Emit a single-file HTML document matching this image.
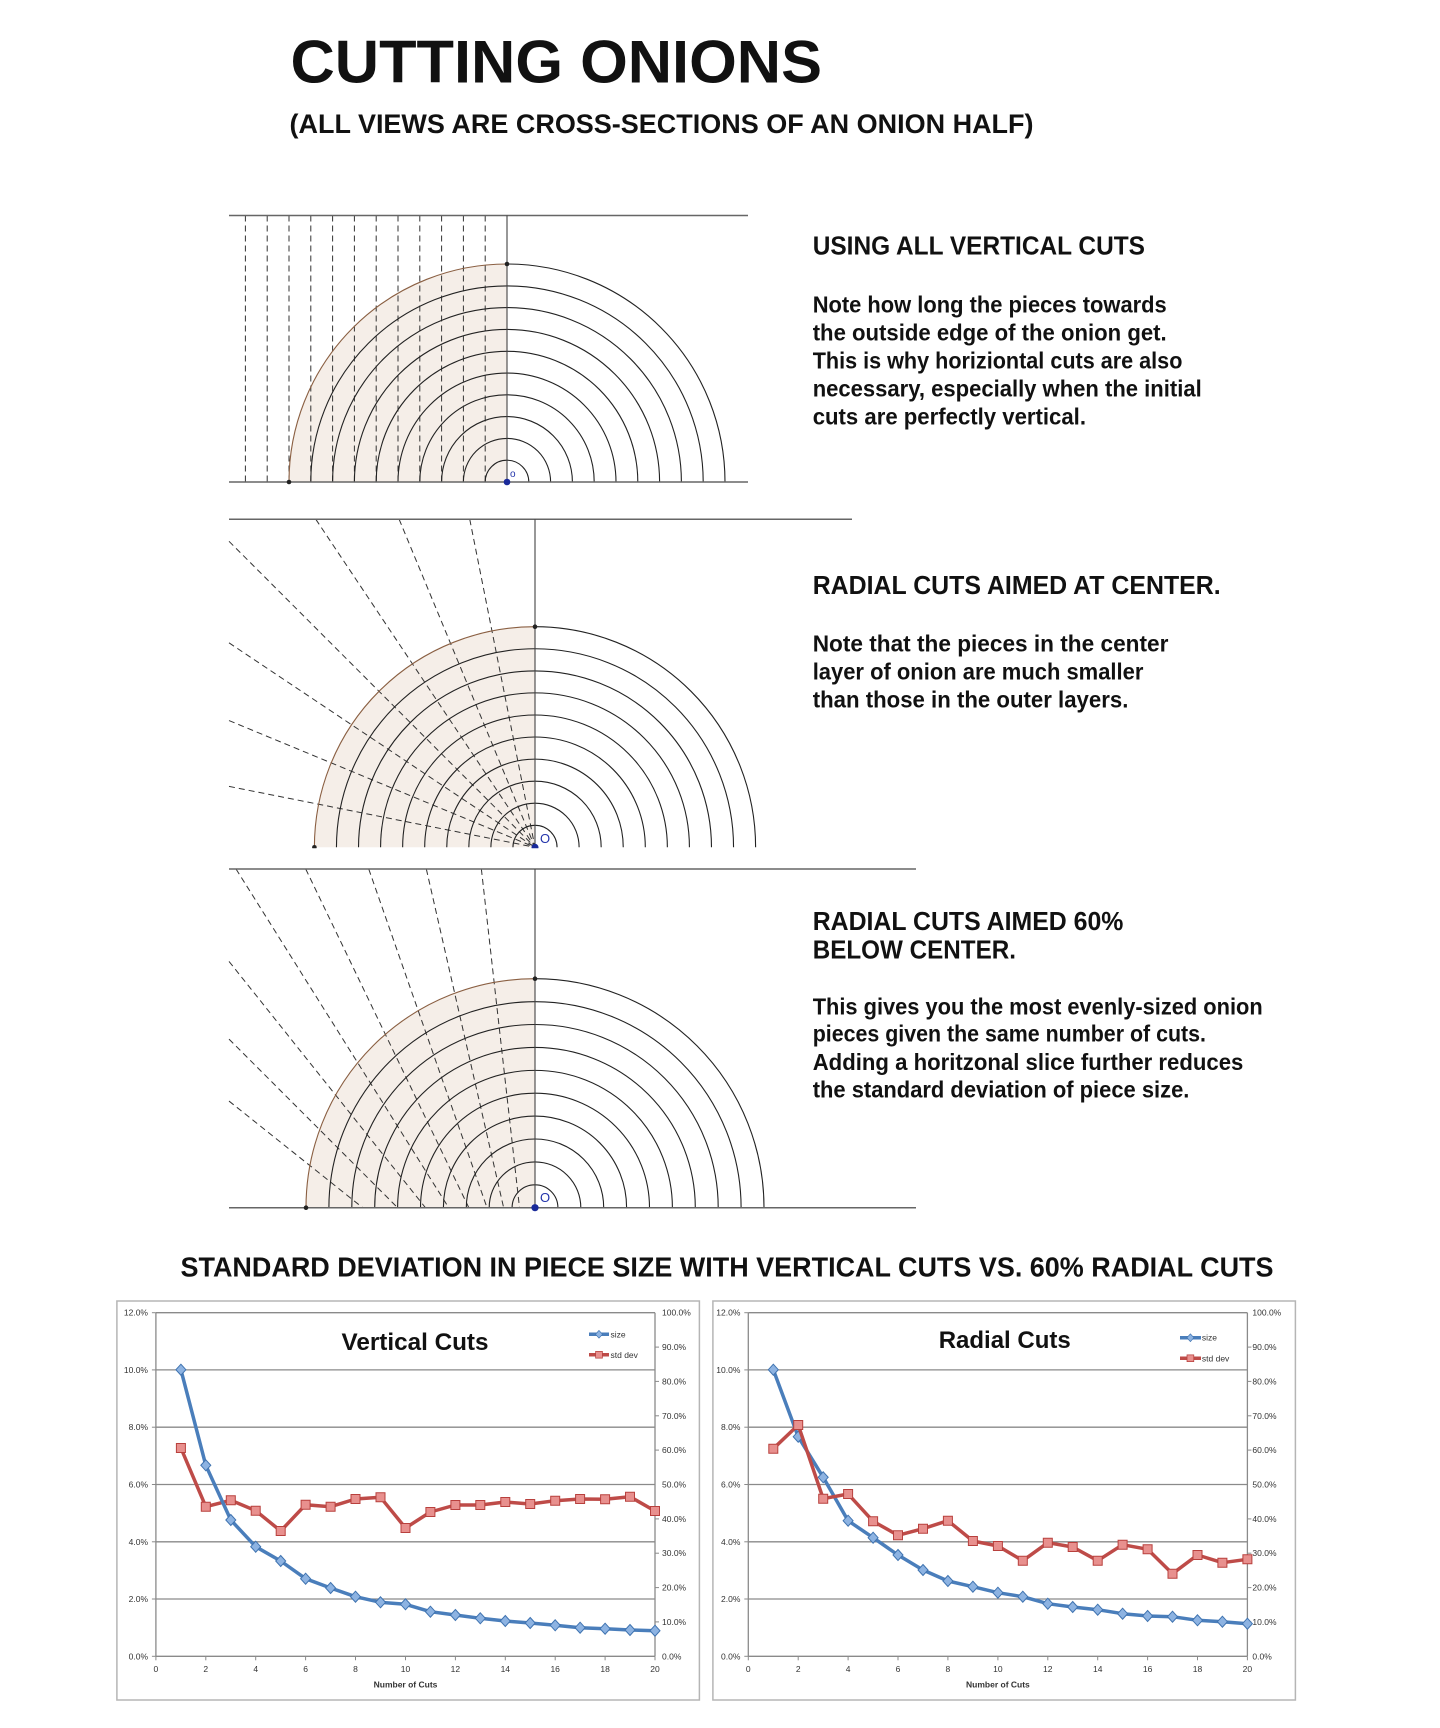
<!DOCTYPE html>
<html>
<head>
<meta charset="utf-8">
<style>
  html,body{margin:0;padding:0;background:#fff;}
  svg{display:block;}
  .t{font-family:"Liberation Sans",Arial,sans-serif;font-weight:bold;fill:#111;}
  .ax{font-family:"Liberation Sans",Arial,sans-serif;font-size:8.5px;fill:#333;}
</style>
</head>
<body>
<svg xmlns="http://www.w3.org/2000/svg" xmlns:xlink="http://www.w3.org/1999/xlink" width="1440" height="1728" viewBox="0 0 1440 1728">
<defs>
  <path id="dia" d="M0,-5.5 L5,0 L0,5.5 L-5,0 Z" fill="#8db3e2" stroke="#3f73b0" stroke-width="1"/>
  <path id="sq" d="M-4.5,-4.5 h9 v9 h-9 Z" fill="#e8908e" stroke="#b8403d" stroke-width="1"/>
  <clipPath id="clip2"><rect x="0" y="500" width="1000" height="348.3"/></clipPath>
</defs>

<!-- TITLE -->
<text class="t" x="290.5" y="82.5" font-size="60" textLength="531.5" lengthAdjust="spacingAndGlyphs">CUTTING ONIONS</text>
<text class="t" x="289.5" y="133" font-size="26.5" textLength="744" lengthAdjust="spacingAndGlyphs">(ALL VIEWS ARE CROSS-SECTIONS OF AN ONION HALF)</text>

<!-- DIAGRAM 1 -->
<g>
  <path d="M507,482 L289,482 A218,218 0 0 1 507,264 Z" fill="#f5eee8"/>
  <g stroke="#333" stroke-width="1" stroke-dasharray="6 4">
    <line x1="485.2" y1="215.5" x2="485.2" y2="482"/>
    <line x1="463.4" y1="215.5" x2="463.4" y2="482"/>
    <line x1="441.6" y1="215.5" x2="441.6" y2="482"/>
    <line x1="419.8" y1="215.5" x2="419.8" y2="482"/>
    <line x1="398" y1="215.5" x2="398" y2="482"/>
    <line x1="376.2" y1="215.5" x2="376.2" y2="482"/>
    <line x1="354.4" y1="215.5" x2="354.4" y2="482"/>
    <line x1="332.6" y1="215.5" x2="332.6" y2="482"/>
    <line x1="310.8" y1="215.5" x2="310.8" y2="482"/>
    <line x1="289" y1="215.5" x2="289" y2="482"/>
    <line x1="267.2" y1="215.5" x2="267.2" y2="482"/>
    <line x1="245.4" y1="215.5" x2="245.4" y2="482"/>
  </g>
  <g fill="none" stroke="#222" stroke-width="1.1">
    <path d="M485.2,482 A21.8,21.8 0 0 1 528.8,482"/>
    <path d="M463.4,482 A43.6,43.6 0 0 1 550.6,482"/>
    <path d="M441.6,482 A65.4,65.4 0 0 1 572.4,482"/>
    <path d="M419.8,482 A87.2,87.2 0 0 1 594.2,482"/>
    <path d="M398,482 A109,109 0 0 1 616,482"/>
    <path d="M376.2,482 A130.8,130.8 0 0 1 637.8,482"/>
    <path d="M354.4,482 A152.6,152.6 0 0 1 659.6,482"/>
    <path d="M332.6,482 A174.4,174.4 0 0 1 681.4,482"/>
    <path d="M310.8,482 A196.2,196.2 0 0 1 703.2,482"/>
    <path d="M507,264 A218,218 0 0 1 725,482"/>
  </g>
  <path d="M289,482 A218,218 0 0 1 507,264" fill="none" stroke="#8a5f42" stroke-width="1.1"/>
  <line x1="229" y1="215.5" x2="748" y2="215.5" stroke="#666" stroke-width="1.5"/>
  <line x1="229" y1="482" x2="748" y2="482" stroke="#666" stroke-width="1.5"/>
  <line x1="507" y1="215.5" x2="507" y2="482" stroke="#444" stroke-width="1.1"/>
  <circle cx="507" cy="264" r="2.3" fill="#222"/>
  <circle cx="289" cy="482" r="2.3" fill="#222"/>
  <circle cx="507" cy="482" r="3.3" fill="#1a2a9a"/>
  <text x="510" y="477" font-family="Liberation Sans, sans-serif" font-size="10" fill="#2233aa">o</text>
</g>

<!-- DIAGRAM 2 -->
<g clip-path="url(#clip2)">
  <path d="M535,847.3 L314.4,847.3 A220.6,220.6 0 0 1 535,626.7 Z" fill="#f5eee8"/>
  <g stroke="#333" stroke-width="1" stroke-dasharray="6 4">
    <line x1="229" y1="786.4" x2="535" y2="847.3"/>
    <line x1="229" y1="720.55" x2="535" y2="847.3"/>
    <line x1="229" y1="642.84" x2="535" y2="847.3"/>
    <line x1="229" y1="541.3" x2="535" y2="847.3"/>
    <line x1="315.84" y1="519.3" x2="535" y2="847.3"/>
    <line x1="399.14" y1="519.3" x2="535" y2="847.3"/>
    <line x1="469.76" y1="519.3" x2="535" y2="847.3"/>
  </g>
  <g fill="none" stroke="#222" stroke-width="1.1">
    <path d="M512.94,847.3 A22.06,22.06 0 0 1 557.06,847.3"/>
    <path d="M490.88,847.3 A44.12,44.12 0 0 1 579.12,847.3"/>
    <path d="M468.82,847.3 A66.18,66.18 0 0 1 601.18,847.3"/>
    <path d="M446.76,847.3 A88.24,88.24 0 0 1 623.24,847.3"/>
    <path d="M424.7,847.3 A110.3,110.3 0 0 1 645.3,847.3"/>
    <path d="M402.64,847.3 A132.36,132.36 0 0 1 667.36,847.3"/>
    <path d="M380.58,847.3 A154.42,154.42 0 0 1 689.42,847.3"/>
    <path d="M358.52,847.3 A176.48,176.48 0 0 1 711.48,847.3"/>
    <path d="M336.46,847.3 A198.54,198.54 0 0 1 733.54,847.3"/>
    <path d="M535,626.7 A220.6,220.6 0 0 1 755.6,847.3"/>
  </g>
  <path d="M314.4,847.3 A220.6,220.6 0 0 1 535,626.7" fill="none" stroke="#8a5f42" stroke-width="1.1"/>
  <line x1="229" y1="519.3" x2="852" y2="519.3" stroke="#666" stroke-width="1.5"/>
  <line x1="535" y1="519.3" x2="535" y2="848" stroke="#444" stroke-width="1.1"/>
  <circle cx="535" cy="626.7" r="2.3" fill="#222"/>
  <circle cx="314.4" cy="847.3" r="2.3" fill="#222"/>
  <circle cx="535" cy="847.3" r="3.5" fill="#1a2a9a"/>
  <text x="540" y="843" font-family="Liberation Sans, sans-serif" font-size="13" fill="#2233aa">O</text>
</g>

<!-- DIAGRAM 3 -->
<g>
  <path d="M535,1207.7 L306,1207.7 A229,229 0 0 1 535,978.7 Z" fill="#f5eee8"/>
  <g stroke="#333" stroke-width="1" stroke-dasharray="6 4">
    <line x1="481.37" y1="869" x2="519.52" y2="1207.7"/>
    <line x1="426.33" y1="869" x2="503.64" y2="1207.7"/>
    <line x1="368.74" y1="869" x2="487.02" y2="1207.7"/>
    <line x1="305.72" y1="869" x2="468.83" y2="1207.7"/>
    <line x1="236.04" y1="869" x2="448.72" y2="1207.7"/>
    <line x1="229" y1="961.38" x2="425.43" y2="1207.7"/>
    <line x1="229" y1="1039.1" x2="397.6" y2="1207.7"/>
    <line x1="229" y1="1101.07" x2="362.7" y2="1207.7"/>
  </g>
  <g fill="none" stroke="#222" stroke-width="1.1">
    <path d="M512.1,1207.7 A22.9,22.9 0 0 1 557.9,1207.7"/>
    <path d="M489.2,1207.7 A45.8,45.8 0 0 1 580.8,1207.7"/>
    <path d="M466.3,1207.7 A68.7,68.7 0 0 1 603.7,1207.7"/>
    <path d="M443.4,1207.7 A91.6,91.6 0 0 1 626.6,1207.7"/>
    <path d="M420.5,1207.7 A114.5,114.5 0 0 1 649.5,1207.7"/>
    <path d="M397.6,1207.7 A137.4,137.4 0 0 1 672.4,1207.7"/>
    <path d="M374.7,1207.7 A160.3,160.3 0 0 1 695.3,1207.7"/>
    <path d="M351.8,1207.7 A183.2,183.2 0 0 1 718.2,1207.7"/>
    <path d="M328.9,1207.7 A206.1,206.1 0 0 1 741.1,1207.7"/>
    <path d="M535,978.7 A229,229 0 0 1 764,1207.7"/>
  </g>
  <path d="M306,1207.7 A229,229 0 0 1 535,978.7" fill="none" stroke="#8a5f42" stroke-width="1.1"/>
  <line x1="229" y1="869" x2="916" y2="869" stroke="#666" stroke-width="1.5"/>
  <line x1="229" y1="1207.7" x2="916" y2="1207.7" stroke="#666" stroke-width="1.5"/>
  <line x1="535" y1="869" x2="535" y2="1207.7" stroke="#444" stroke-width="1.1"/>
  <circle cx="535" cy="978.7" r="2.3" fill="#222"/>
  <circle cx="306" cy="1207.7" r="2.3" fill="#222"/>
  <circle cx="535" cy="1207.7" r="3.6" fill="#1a2a9a"/>
  <text x="540" y="1202" font-family="Liberation Sans, sans-serif" font-size="13" fill="#2233aa">O</text>
</g>

<!-- TEXT BLOCK 1 -->
<text class="t" x="812.7" y="254.3" font-size="25.5" textLength="332.3" lengthAdjust="spacingAndGlyphs">USING ALL VERTICAL CUTS</text>
<text class="t" x="812.7" y="312.3" font-size="23" textLength="354" lengthAdjust="spacingAndGlyphs">Note how long the pieces towards</text>
<text class="t" x="812.7" y="340.7" font-size="23" textLength="354" lengthAdjust="spacingAndGlyphs">the outside edge of the onion get.</text>
<text class="t" x="812.7" y="368.7" font-size="23" textLength="369.7" lengthAdjust="spacingAndGlyphs">This is why horiziontal cuts are also</text>
<text class="t" x="812.7" y="396.7" font-size="23" textLength="389" lengthAdjust="spacingAndGlyphs">necessary, especially when the initial</text>
<text class="t" x="812.7" y="424.3" font-size="23" textLength="273.3" lengthAdjust="spacingAndGlyphs">cuts are perfectly vertical.</text>

<!-- TEXT BLOCK 2 -->
<text class="t" x="812.7" y="594" font-size="25.5" textLength="408" lengthAdjust="spacingAndGlyphs">RADIAL CUTS AIMED AT CENTER.</text>
<text class="t" x="812.7" y="651.7" font-size="23" textLength="355.7" lengthAdjust="spacingAndGlyphs">Note that the pieces in the center</text>
<text class="t" x="812.7" y="679.3" font-size="23" textLength="330.7" lengthAdjust="spacingAndGlyphs">layer of onion are much smaller</text>
<text class="t" x="812.7" y="707.7" font-size="23" textLength="315.7" lengthAdjust="spacingAndGlyphs">than those in the outer layers.</text>

<!-- TEXT BLOCK 3 -->
<text class="t" x="812.7" y="930" font-size="25.5" textLength="310.7" lengthAdjust="spacingAndGlyphs">RADIAL CUTS AIMED 60%</text>
<text class="t" x="812.7" y="958.3" font-size="25.5" textLength="203.3" lengthAdjust="spacingAndGlyphs">BELOW CENTER.</text>
<text class="t" x="812.7" y="1014.3" font-size="23" textLength="450" lengthAdjust="spacingAndGlyphs">This gives you the most evenly-sized onion</text>
<text class="t" x="812.7" y="1041.7" font-size="23" textLength="393.3" lengthAdjust="spacingAndGlyphs">pieces given the same number of cuts.</text>
<text class="t" x="812.7" y="1070" font-size="23" textLength="430.7" lengthAdjust="spacingAndGlyphs">Adding a horitzonal slice further reduces</text>
<text class="t" x="812.7" y="1097.7" font-size="23" textLength="376.7" lengthAdjust="spacingAndGlyphs">the standard deviation of piece size.</text>

<!-- CHART HEADING -->
<text class="t" x="180.5" y="1276.7" font-size="28" textLength="1093" lengthAdjust="spacingAndGlyphs">STANDARD DEVIATION IN PIECE SIZE WITH VERTICAL CUTS VS. 60% RADIAL CUTS</text>

<!-- LEFT CHART -->
<g id="chartL">
  <rect x="116.9" y="1301" width="582.5" height="399" fill="#fff" stroke="#b5b5b5" stroke-width="1.5"/>
  <g stroke="#8a8a8a" stroke-width="1.3">
    <line x1="155.9" y1="1312.7" x2="655" y2="1312.7"/>
    <line x1="155.9" y1="1369.9" x2="655" y2="1369.9"/>
    <line x1="155.9" y1="1427.2" x2="655" y2="1427.2"/>
    <line x1="155.9" y1="1484.5" x2="655" y2="1484.5"/>
    <line x1="155.9" y1="1541.8" x2="655" y2="1541.8"/>
    <line x1="155.9" y1="1599.0" x2="655" y2="1599.0"/>
    <line x1="155.9" y1="1656.3" x2="655" y2="1656.3"/>
    <line x1="155.9" y1="1312.7" x2="155.9" y2="1656.3"/>
    <line x1="655" y1="1312.7" x2="655" y2="1656.3"/>
  </g>
  <g stroke="#8a8a8a" stroke-width="1">
    <line x1="151.9" y1="1312.7" x2="155.9" y2="1312.7"/><line x1="151.9" y1="1369.9" x2="155.9" y2="1369.9"/>
    <line x1="151.9" y1="1427.2" x2="155.9" y2="1427.2"/><line x1="151.9" y1="1484.5" x2="155.9" y2="1484.5"/>
    <line x1="151.9" y1="1541.8" x2="155.9" y2="1541.8"/><line x1="151.9" y1="1599" x2="155.9" y2="1599"/>
    <line x1="151.9" y1="1656.3" x2="155.9" y2="1656.3"/>
    <line x1="655" y1="1347.1" x2="659" y2="1347.1"/><line x1="655" y1="1381.4" x2="659" y2="1381.4"/>
    <line x1="655" y1="1415.8" x2="659" y2="1415.8"/><line x1="655" y1="1450.1" x2="659" y2="1450.1"/>
    <line x1="655" y1="1518.9" x2="659" y2="1518.9"/><line x1="655" y1="1553.2" x2="659" y2="1553.2"/>
    <line x1="655" y1="1587.6" x2="659" y2="1587.6"/><line x1="655" y1="1621.9" x2="659" y2="1621.9"/>
    <line x1="155.9" y1="1656.3" x2="155.9" y2="1660.3"/><line x1="205.8" y1="1656.3" x2="205.8" y2="1660.3"/>
    <line x1="255.7" y1="1656.3" x2="255.7" y2="1660.3"/><line x1="305.6" y1="1656.3" x2="305.6" y2="1660.3"/>
    <line x1="355.5" y1="1656.3" x2="355.5" y2="1660.3"/><line x1="405.5" y1="1656.3" x2="405.5" y2="1660.3"/>
    <line x1="455.4" y1="1656.3" x2="455.4" y2="1660.3"/><line x1="505.3" y1="1656.3" x2="505.3" y2="1660.3"/>
    <line x1="555.2" y1="1656.3" x2="555.2" y2="1660.3"/><line x1="605.1" y1="1656.3" x2="605.1" y2="1660.3"/>
    <line x1="655" y1="1656.3" x2="655" y2="1660.3"/>
  </g>
  <g class="ax" text-anchor="end">
    <text x="148" y="1315.7">12.0%</text><text x="148" y="1372.9">10.0%</text>
    <text x="148" y="1430.2">8.0%</text><text x="148" y="1487.5">6.0%</text>
    <text x="148" y="1544.8">4.0%</text><text x="148" y="1602">2.0%</text>
    <text x="148" y="1659.3">0.0%</text>
  </g>
  <g class="ax">
    <text x="662" y="1315.7">100.0%</text><text x="662" y="1350.1">90.0%</text>
    <text x="662" y="1384.4">80.0%</text><text x="662" y="1418.8">70.0%</text>
    <text x="662" y="1453.1">60.0%</text><text x="662" y="1487.5">50.0%</text>
    <text x="662" y="1521.9">40.0%</text><text x="662" y="1556.2">30.0%</text>
    <text x="662" y="1590.6">20.0%</text><text x="662" y="1624.9">10.0%</text>
    <text x="662" y="1659.3">0.0%</text>
  </g>
  <g class="ax" text-anchor="middle">
    <text x="155.9" y="1672">0</text><text x="205.8" y="1672">2</text><text x="255.7" y="1672">4</text>
    <text x="305.6" y="1672">6</text><text x="355.5" y="1672">8</text><text x="405.5" y="1672">10</text>
    <text x="455.4" y="1672">12</text><text x="505.3" y="1672">14</text><text x="555.2" y="1672">16</text>
    <text x="605.1" y="1672">18</text><text x="655" y="1672">20</text>
    <text x="405.5" y="1687.5" font-weight="bold" font-size="8.5">Number of Cuts</text>
  </g>
  <text x="415" y="1350" text-anchor="middle" font-family="Liberation Sans, sans-serif" font-weight="bold" font-size="24" fill="#111" textLength="147" lengthAdjust="spacingAndGlyphs">Vertical Cuts</text>
  <!-- legend -->
  <line x1="589" y1="1334.3" x2="609" y2="1334.3" stroke="#4a7ebb" stroke-width="3.5"/>
  <use xlink:href="#dia" x="599" y="1334.3" transform="translate(599,1334.3) scale(0.7) translate(-599,-1334.3)"/>
  <text class="ax" x="610.5" y="1337.3" font-size="8">size</text>
  <line x1="589" y1="1354.8" x2="609" y2="1354.8" stroke="#be4b48" stroke-width="3.5"/>
  <use xlink:href="#sq" x="599" y="1354.8" transform="translate(599,1354.8) scale(0.75) translate(-599,-1354.8)"/>
  <text class="ax" x="610.5" y="1357.8" font-size="8">std dev</text>
  <!-- series: std dev -->
  <polyline fill="none" stroke="#be4b48" stroke-width="3.5" stroke-linejoin="round" points="180.9,1448 205.8,1506.7 230.8,1500.3 255.7,1510.7 280.7,1531 305.6,1504.7 330.6,1506.7 355.5,1499 380.5,1497.3 405.5,1528 430.4,1512 455.4,1505 480.3,1505 505.3,1502 530.2,1504 555.2,1500.7 580.1,1499 605.1,1499.3 630,1496.7 655,1511"/>
  <g>
    <use xlink:href="#sq" x="180.9" y="1448"/><use xlink:href="#sq" x="205.8" y="1506.7"/><use xlink:href="#sq" x="230.8" y="1500.3"/>
    <use xlink:href="#sq" x="255.7" y="1510.7"/><use xlink:href="#sq" x="280.7" y="1531"/><use xlink:href="#sq" x="305.6" y="1504.7"/>
    <use xlink:href="#sq" x="330.6" y="1506.7"/><use xlink:href="#sq" x="355.5" y="1499"/><use xlink:href="#sq" x="380.5" y="1497.3"/>
    <use xlink:href="#sq" x="405.5" y="1528"/><use xlink:href="#sq" x="430.4" y="1512"/><use xlink:href="#sq" x="455.4" y="1505"/>
    <use xlink:href="#sq" x="480.3" y="1505"/><use xlink:href="#sq" x="505.3" y="1502"/><use xlink:href="#sq" x="530.2" y="1504"/>
    <use xlink:href="#sq" x="555.2" y="1500.7"/><use xlink:href="#sq" x="580.1" y="1499"/><use xlink:href="#sq" x="605.1" y="1499.3"/>
    <use xlink:href="#sq" x="630" y="1496.7"/><use xlink:href="#sq" x="655" y="1511"/>
  </g>
  <!-- series: size -->
  <polyline fill="none" stroke="#4a7ebb" stroke-width="3.5" stroke-linejoin="round" points="180.9,1369.7 205.8,1465.3 230.8,1520 255.7,1546.7 280.7,1561 305.6,1578.7 330.6,1588 355.5,1596.7 380.5,1602.3 405.5,1604.3 430.4,1611.7 455.4,1615 480.3,1618.3 505.3,1621 530.2,1623 555.2,1625.3 580.1,1627.7 605.1,1628.7 630,1630 655,1630.7"/>
  <g>
    <use xlink:href="#dia" x="180.9" y="1369.7"/><use xlink:href="#dia" x="205.8" y="1465.3"/><use xlink:href="#dia" x="230.8" y="1520"/>
    <use xlink:href="#dia" x="255.7" y="1546.7"/><use xlink:href="#dia" x="280.7" y="1561"/><use xlink:href="#dia" x="305.6" y="1578.7"/>
    <use xlink:href="#dia" x="330.6" y="1588"/><use xlink:href="#dia" x="355.5" y="1596.7"/><use xlink:href="#dia" x="380.5" y="1602.3"/>
    <use xlink:href="#dia" x="405.5" y="1604.3"/><use xlink:href="#dia" x="430.4" y="1611.7"/><use xlink:href="#dia" x="455.4" y="1615"/>
    <use xlink:href="#dia" x="480.3" y="1618.3"/><use xlink:href="#dia" x="505.3" y="1621"/><use xlink:href="#dia" x="530.2" y="1623"/>
    <use xlink:href="#dia" x="555.2" y="1625.3"/><use xlink:href="#dia" x="580.1" y="1627.7"/><use xlink:href="#dia" x="605.1" y="1628.7"/>
    <use xlink:href="#dia" x="630" y="1630"/><use xlink:href="#dia" x="655" y="1630.7"/>
  </g>
</g>

<!-- RIGHT CHART (group offset by 592.4) -->
<g transform="translate(592.4,0)">
  <rect x="120.5" y="1301" width="582.5" height="399" fill="#fff" stroke="#b5b5b5" stroke-width="1.5"/>
  <g stroke="#8a8a8a" stroke-width="1.3">
    <line x1="155.9" y1="1312.7" x2="655" y2="1312.7"/>
    <line x1="155.9" y1="1369.9" x2="655" y2="1369.9"/>
    <line x1="155.9" y1="1427.2" x2="655" y2="1427.2"/>
    <line x1="155.9" y1="1484.5" x2="655" y2="1484.5"/>
    <line x1="155.9" y1="1541.8" x2="655" y2="1541.8"/>
    <line x1="155.9" y1="1599.0" x2="655" y2="1599.0"/>
    <line x1="155.9" y1="1656.3" x2="655" y2="1656.3"/>
    <line x1="155.9" y1="1312.7" x2="155.9" y2="1656.3"/>
    <line x1="655" y1="1312.7" x2="655" y2="1656.3"/>
  </g>
  <g stroke="#8a8a8a" stroke-width="1">
    <line x1="151.9" y1="1312.7" x2="155.9" y2="1312.7"/><line x1="151.9" y1="1369.9" x2="155.9" y2="1369.9"/>
    <line x1="151.9" y1="1427.2" x2="155.9" y2="1427.2"/><line x1="151.9" y1="1484.5" x2="155.9" y2="1484.5"/>
    <line x1="151.9" y1="1541.8" x2="155.9" y2="1541.8"/><line x1="151.9" y1="1599" x2="155.9" y2="1599"/>
    <line x1="151.9" y1="1656.3" x2="155.9" y2="1656.3"/>
    <line x1="655" y1="1347.1" x2="659" y2="1347.1"/><line x1="655" y1="1381.4" x2="659" y2="1381.4"/>
    <line x1="655" y1="1415.8" x2="659" y2="1415.8"/><line x1="655" y1="1450.1" x2="659" y2="1450.1"/>
    <line x1="655" y1="1518.9" x2="659" y2="1518.9"/><line x1="655" y1="1553.2" x2="659" y2="1553.2"/>
    <line x1="655" y1="1587.6" x2="659" y2="1587.6"/><line x1="655" y1="1621.9" x2="659" y2="1621.9"/>
    <line x1="155.9" y1="1656.3" x2="155.9" y2="1660.3"/><line x1="205.8" y1="1656.3" x2="205.8" y2="1660.3"/>
    <line x1="255.7" y1="1656.3" x2="255.7" y2="1660.3"/><line x1="305.6" y1="1656.3" x2="305.6" y2="1660.3"/>
    <line x1="355.5" y1="1656.3" x2="355.5" y2="1660.3"/><line x1="405.5" y1="1656.3" x2="405.5" y2="1660.3"/>
    <line x1="455.4" y1="1656.3" x2="455.4" y2="1660.3"/><line x1="505.3" y1="1656.3" x2="505.3" y2="1660.3"/>
    <line x1="555.2" y1="1656.3" x2="555.2" y2="1660.3"/><line x1="605.1" y1="1656.3" x2="605.1" y2="1660.3"/>
    <line x1="655" y1="1656.3" x2="655" y2="1660.3"/>
  </g>
  <g class="ax" text-anchor="end">
    <text x="148" y="1315.7">12.0%</text><text x="148" y="1372.9">10.0%</text>
    <text x="148" y="1430.2">8.0%</text><text x="148" y="1487.5">6.0%</text>
    <text x="148" y="1544.8">4.0%</text><text x="148" y="1602">2.0%</text>
    <text x="148" y="1659.3">0.0%</text>
  </g>
  <g class="ax">
    <text x="660" y="1315.7">100.0%</text><text x="660" y="1350.1">90.0%</text>
    <text x="660" y="1384.4">80.0%</text><text x="660" y="1418.8">70.0%</text>
    <text x="660" y="1453.1">60.0%</text><text x="660" y="1487.5">50.0%</text>
    <text x="660" y="1521.9">40.0%</text><text x="660" y="1556.2">30.0%</text>
    <text x="660" y="1590.6">20.0%</text><text x="660" y="1624.9">10.0%</text>
    <text x="660" y="1659.3">0.0%</text>
  </g>
  <g class="ax" text-anchor="middle">
    <text x="155.9" y="1672">0</text><text x="205.8" y="1672">2</text><text x="255.7" y="1672">4</text>
    <text x="305.6" y="1672">6</text><text x="355.5" y="1672">8</text><text x="405.5" y="1672">10</text>
    <text x="455.4" y="1672">12</text><text x="505.3" y="1672">14</text><text x="555.2" y="1672">16</text>
    <text x="605.1" y="1672">18</text><text x="655" y="1672">20</text>
    <text x="405.5" y="1687.5" font-weight="bold" font-size="8.5">Number of Cuts</text>
  </g>
  <text x="412.3" y="1348" text-anchor="middle" font-family="Liberation Sans, sans-serif" font-weight="bold" font-size="24" fill="#111" textLength="132" lengthAdjust="spacingAndGlyphs">Radial Cuts</text>
  <!-- legend -->
  <line x1="587.6" y1="1337.7" x2="608.6" y2="1337.7" stroke="#4a7ebb" stroke-width="3.5"/>
  <use xlink:href="#dia" x="598" y="1337.7" transform="translate(598,1337.7) scale(0.7) translate(-598,-1337.7)"/>
  <text class="ax" x="609.5" y="1340.7" font-size="8">size</text>
  <line x1="587.6" y1="1358.3" x2="608.6" y2="1358.3" stroke="#be4b48" stroke-width="3.5"/>
  <use xlink:href="#sq" x="598" y="1358.3" transform="translate(598,1358.3) scale(0.75) translate(-598,-1358.3)"/>
  <text class="ax" x="609.5" y="1361.3" font-size="8">std dev</text>
  <!-- series: size -->
  <polyline fill="none" stroke="#4a7ebb" stroke-width="3.5" stroke-linejoin="round" points="180.9,1369.7 205.8,1436.7 230.8,1477.3 255.7,1520.7 280.7,1537.7 305.6,1555 330.6,1570 355.5,1581 380.5,1586.7 405.5,1592.7 430.4,1596.7 455.4,1603.7 480.3,1607 505.3,1609.7 530.2,1613.7 555.2,1616 580.1,1616.7 605.1,1620.3 630,1621.7 655,1623.7"/>
  <g>
    <use xlink:href="#dia" x="180.9" y="1369.7"/><use xlink:href="#dia" x="205.8" y="1436.7"/><use xlink:href="#dia" x="230.8" y="1477.3"/>
    <use xlink:href="#dia" x="255.7" y="1520.7"/><use xlink:href="#dia" x="280.7" y="1537.7"/><use xlink:href="#dia" x="305.6" y="1555"/>
    <use xlink:href="#dia" x="330.6" y="1570"/><use xlink:href="#dia" x="355.5" y="1581"/><use xlink:href="#dia" x="380.5" y="1586.7"/>
    <use xlink:href="#dia" x="405.5" y="1592.7"/><use xlink:href="#dia" x="430.4" y="1596.7"/><use xlink:href="#dia" x="455.4" y="1603.7"/>
    <use xlink:href="#dia" x="480.3" y="1607"/><use xlink:href="#dia" x="505.3" y="1609.7"/><use xlink:href="#dia" x="530.2" y="1613.7"/>
    <use xlink:href="#dia" x="555.2" y="1616"/><use xlink:href="#dia" x="580.1" y="1616.7"/><use xlink:href="#dia" x="605.1" y="1620.3"/>
    <use xlink:href="#dia" x="630" y="1621.7"/><use xlink:href="#dia" x="655" y="1623.7"/>
  </g>
  <polyline fill="none" stroke="#be4b48" stroke-width="3.5" stroke-linejoin="round" points="180.9,1448.7 205.8,1425 230.8,1498.7 255.7,1494 280.7,1521.3 305.6,1535.3 330.6,1528.7 355.5,1520.7 380.5,1541 405.5,1546 430.4,1560.7 455.4,1542.7 480.3,1547 505.3,1560.7 530.2,1544.7 555.2,1549.3 580.1,1573.7 605.1,1555 630,1562.7 655,1559.3"/>
  <g>
    <use xlink:href="#sq" x="180.9" y="1448.7"/><use xlink:href="#sq" x="205.8" y="1425"/><use xlink:href="#sq" x="230.8" y="1498.7"/>
    <use xlink:href="#sq" x="255.7" y="1494"/><use xlink:href="#sq" x="280.7" y="1521.3"/><use xlink:href="#sq" x="305.6" y="1535.3"/>
    <use xlink:href="#sq" x="330.6" y="1528.7"/><use xlink:href="#sq" x="355.5" y="1520.7"/><use xlink:href="#sq" x="380.5" y="1541"/>
    <use xlink:href="#sq" x="405.5" y="1546"/><use xlink:href="#sq" x="430.4" y="1560.7"/><use xlink:href="#sq" x="455.4" y="1542.7"/>
    <use xlink:href="#sq" x="480.3" y="1547"/><use xlink:href="#sq" x="505.3" y="1560.7"/><use xlink:href="#sq" x="530.2" y="1544.7"/>
    <use xlink:href="#sq" x="555.2" y="1549.3"/><use xlink:href="#sq" x="580.1" y="1573.7"/><use xlink:href="#sq" x="605.1" y="1555"/>
    <use xlink:href="#sq" x="630" y="1562.7"/><use xlink:href="#sq" x="655" y="1559.3"/>
  </g>
</g>
</svg>
</body>
</html>
